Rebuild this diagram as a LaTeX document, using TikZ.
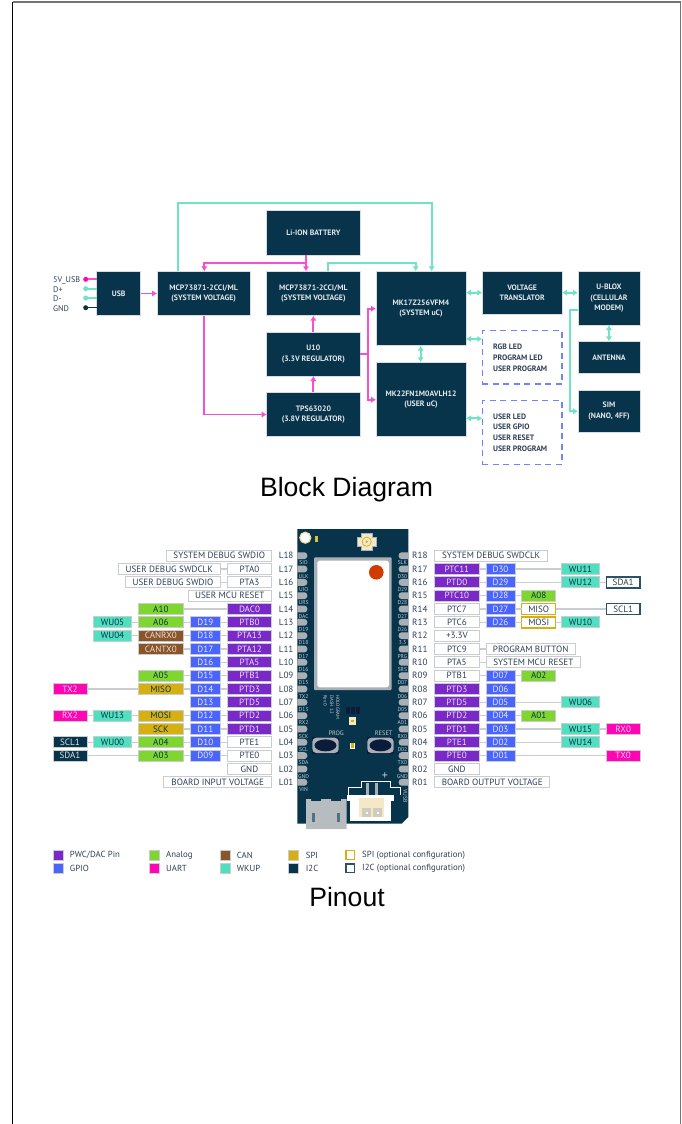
\documentclass[tikz,border=0pt]{standalone}
\usepackage{fontspec}
\setmainfont{PT Sans}
\newfontfamily\titlefont{Liberation Sans}
\usetikzlibrary{arrows.meta,calc}
\definecolor{navy}{HTML}{08344B}
\definecolor{lnpink}{HTML}{F64FCF}
\definecolor{lnteal}{HTML}{6FE3C5}
\definecolor{cpurple}{HTML}{7A28C8}
\definecolor{cblue}{HTML}{4A64FF}
\definecolor{cgreen}{HTML}{7ED62F}
\definecolor{cbrown}{HTML}{8A5528}
\definecolor{cyellow}{HTML}{D6B011}
\definecolor{cpink}{HTML}{FF05B4}
\definecolor{cteal}{HTML}{4FE0C0}
\definecolor{ink}{HTML}{2E3F55}
\definecolor{edge}{HTML}{C9CDD0}
\definecolor{padgray}{HTML}{A9B0B5}
\definecolor{corange}{HTML}{D13B00}
\definecolor{cream}{HTML}{F5E8C8}
\definecolor{btnnavy}{HTML}{0B1B3C}
\tikzset{
 x=1pt,y=-1pt,
 block/.style={fill=navy,draw=edge!70,line width=0.5pt,inner sep=0pt,outer sep=0pt,text=white!88!navy,align=center,font=\fontsize{7.8}{10.8}\selectfont\bfseries},
 dashbox/.style={draw=cblue!80,dash pattern=on 6pt off 4.5pt,line width=1.3pt,inner sep=0pt,outer sep=0pt},
 pinkline/.style={draw=lnpink,line width=1.8pt},
 tealline/.style={draw=lnteal,line width=1.8pt},
 tipf/.style={-{Latex[length=5pt,width=6.5pt]}},
 tipb/.style={{Latex[length=5pt,width=6.5pt]}-{Latex[length=5pt,width=6.5pt]}},
 dot/.style={circle,inner sep=0pt,minimum size=5pt,outer sep=0pt},
 usblabel/.style={anchor=west,inner sep=0pt,text=ink,font=\fontsize{8.2}{9}\selectfont},
 dashtext/.style={anchor=west,inner sep=0pt,text=ink,font=\fontsize{7.8}{10.8}\selectfont\bfseries,align=left},
 pinbase/.style={inner sep=0pt,outer sep=0pt,line width=1pt,draw=edge,font=\fontsize{9.1}{10}\selectfont,text height=6.4pt,text depth=0pt},
 pw/.style={fill=white,text=ink},
 pp/.style={fill=cpurple,text=white!85!cpurple},
 pb/.style={fill=cblue,text=white!85!cblue},
 pg/.style={fill=cgreen,text=navy},
 pr/.style={fill=cbrown,text=white!80!cbrown},
 py/.style={fill=cyellow,text=navy},
 pk/.style={fill=cpink,text=white!80!cpink},
 pt/.style={fill=cteal,text=navy},
 pn/.style={fill=navy,text=white!85!navy},
 pyo/.style={fill=white,draw=cyellow,line width=1.5pt,text=ink},
 pno/.style={fill=white,draw=navy!85,line width=1.5pt,text=ink},
 wire/.style={draw=edge,line width=1.2pt},
 rowlabel/.style={inner sep=0pt,anchor=west,text=ink,font=\fontsize{9.1}{10}\selectfont},
 boardtext/.style={inner sep=0pt,text=white!75!navy,font=\fontsize{5.6}{6}\selectfont},
 legendtext/.style={anchor=west,inner sep=0pt,text=ink,font=\fontsize{8.8}{10}\selectfont},
 legendbox/.style={inner sep=0pt,outer sep=0pt,minimum size=9.6pt,draw=edge,line width=0.4pt},
 titletext/.style={inner sep=0pt,font=\titlefont\fontsize{26.6}{30}\selectfont,text=black},
}
\newcommand\blk[6]{\node[block,minimum width={(#4-#3)*1pt},minimum height={(#6-#5)*1pt}] (#1) at ({(#3+#4)/2},{(#5+#6)/2}) {#2};}
\newcommand\pinbox[6]{\node[pinbase,#2,minimum width={(#4-#3)*1pt},minimum height=11pt] (#1) at ({(#3+#4)/2},{782.3-(#5-1)*13.33}) {#6};}
\newcommand\LP[4]{\pinbox{#1}{#2}{227.3}{271.7}{#3}{#4}}
\newcommand\LD[4]{\pinbox{#1}{#2}{190.3}{220.3}{#3}{#4}}
\newcommand\LA[4]{\pinbox{#1}{#2}{138}{183.7}{#3}{#4}}
\newcommand\LW[4]{\pinbox{#1}{#2}{93.7}{131.3}{#3}{#4}}
\newcommand\LO[4]{\pinbox{#1}{#2}{53}{87}{#3}{#4}}
\newcommand\RP[4]{\pinbox{#1}{#2}{434.7}{479}{#3}{#4}}
\newcommand\RD[4]{\pinbox{#1}{#2}{486}{515}{#3}{#4}}
\newcommand\RA[4]{\pinbox{#1}{#2}{521.7}{555.7}{#3}{#4}}
\newcommand\RW[4]{\pinbox{#1}{#2}{561.7}{599.3}{#3}{#4}}
\newcommand\RO[4]{\pinbox{#1}{#2}{606.3}{640}{#3}{#4}}
\newcommand\wires[1]{\foreach \aa/\bb in {#1}{\draw[wire] (\aa) -- (\bb);}}
\begin{document}
\begin{tikzpicture}
\useasboundingbox (0,0) rectangle (682,1124);
% page frame
\draw[black,line width=1pt] (12.5,1124) -- (12.5,2);
\draw[black!55,line width=1.5pt] (12.5,2) -- (680.7,2) -- (680.7,1124);
%% ---------- block diagram
\blk{usb}{USB}{96.7}{140.7}{271.3}{315.7}
\blk{mcpa}{MCP73871-2CCI/ML\\(SYSTEM VOLTAGE)}{157}{250.3}{271.3}{315.7}
\blk{batt}{Li-ION BATTERY}{266.7}{360}{210.7}{255}
\blk{mcpb}{MCP73871-2CCI/ML\\(SYSTEM VOLTAGE)}{266.7}{360}{271.3}{315.7}
\blk{uten}{U10\\(3.3V REGULATOR)}{266.7}{360}{332}{376}
\blk{tps}{TPS63020\\(3.8V REGULATOR)}{266.7}{360}{392.3}{436.7}
\blk{mks}{MK17Z256VFM4\\(SYSTEM uC)}{376}{466}{271.3}{345.7}
\blk{mku}{MK22FN1M0AVLH12\\(USER uC)}{376}{466}{362.3}{436.7}
\blk{vt}{VOLTAGE\\TRANSLATOR}{482.3}{562}{271.3}{314.3}
\blk{ublox}{U-BLOX\\(CELLULAR\\MODEM)}{578}{640}{271.3}{325}
\blk{ant}{ANTENNA}{578}{640}{341.3}{373.3}
\blk{sim}{SIM\\(NANO, 4FF)}{578}{640}{390}{432.7}
\node[dashbox,minimum width=79.7pt,minimum height=53.3pt] (dasha) at (522.15,357.35) {};
\node[dashbox,minimum width=79.7pt,minimum height=64pt] (dashb) at (522.15,432.7) {};
\node[dashtext] (dasha text) at (493,357.6) {RGB LED\\PROGRAM LED\\USER PROGRAM};
\node[dashtext] (dashb text) at (493,432.6) {USER LED\\USER GPIO\\USER RESET\\USER PROGRAM};
% USB pins
\node[dot,fill=cpink] (p5v) at (85.7,279.3) {};
\node[dot,fill=lnteal] (pdp) at (85.7,288.7) {};
\node[dot,fill=lnteal] (pdm) at (85.7,298) {};
\node[dot,fill=navy] (pgnd) at (85.7,307.7) {};
\node[usblabel] (l5v) at (53,280) {5V\_USB};
\node[usblabel] (ldp) at (53,290) {D+};
\node[usblabel] (ldm) at (53,299) {D-};
\node[usblabel] (lgnd) at (53,308.7) {GND};
\draw[pinkline] (p5v) -- (p5v -| usb.west);
\draw[tealline] (pdp) -- (pdp -| usb.west);
\draw[tealline] (pdm) -- (pdm -| usb.west);
\draw[draw=navy,line width=1.5pt] (pgnd) -- (pgnd -| usb.west);
% pink connectors
\coordinate (bs) at (306,255);
\coordinate (bj) at (306,262.7);
\coordinate (me) at (204.3,262.7);
\coordinate (ms) at (204.3,315.7);
\coordinate (mc) at (204.3,414.5);
\coordinate (uj) at (367.7,354);
\coordinate (uja) at (367.7,308.7);
\coordinate (ujb) at (367.7,399.7);
\draw[pinkline,tipf] (usb) -- (mcpa);
\draw[pinkline,tipf] (bs) -- (bs |- mcpb.north);
\draw[pinkline,tipf] (bj) -- (me) -- (me |- mcpa.north);
\draw[pinkline,tipf] (ms) -- (mc) -- (mc -| tps.west);
\draw[pinkline,tipf] (tps) -- (uten);
\draw[pinkline,tipf] (uten) -- (mcpb);
\draw[pinkline] (uj -| uten.east) -- (uj);
\draw[pinkline,tipf] (uj) -- (uja) -- (uja -| mks.west);
\draw[pinkline,tipf] (uj) -- (ujb) -- (ujb -| mku.west);
% teal connectors
\coordinate (ta) at (177.7,271.3);
\coordinate (tb) at (177.7,203);
\coordinate (tc) at (431.7,203);
\coordinate (td) at (328.3,271.3);
\coordinate (te) at (328.3,262.7);
\coordinate (tf) at (415.7,262.7);
\draw[tealline,tipf] (ta) -- (tb) -- (tc) -- (tc |- mks.north);
\draw[tealline,tipf] (td) -- (te) -- (tf) -- (tf |- mks.north);
\coordinate (row1) at (470,292.7);
\draw[tealline,tipb] (row1 -| mks.east) -- (row1 -| vt.west);
\draw[tealline,tipb] (row1 -| vt.east) -- (row1 -| ublox.west);
\coordinate (row2) at (470,339);
\draw[tealline,tipb] (row2 -| mks.east) -- (row2 -| dasha.west);
\coordinate (row3) at (470,418.3);
\draw[tealline,tipb] (row3 -| mku.east) -- (row3 -| dashb.west);
\coordinate (col1) at (420.7,350);
\draw[tealline,tipb] (col1 |- mks.south) -- (col1 |- mku.north);
\draw[tealline,tipb] (ublox) -- (ant);
\coordinate (ua) at (570,310.3);
\coordinate (ub) at (570,411.3);
\draw[tealline,tipf] (ua -| ublox.west) -- (ua) -- (ub) -- (ub -| sim.west);
\node[titletext] (title1) at (346.5,490) {Block Diagram};
%% ---------- board
\fill[navy] (297.3,529) -- (408.3,529) -- (408.3,817) -- (402,823.5) -- (297.3,823.5) -- cycle;
\begin{scope}
\clip (297.3,529) rectangle (408.3,823.5);
\foreach \n/\lab/\rab in {18/SIO/SLK,17/ULK/D30,16/UIO/D29,15/URS/D28,14/DAC/D27,13/D19/D26,12/D18/3.3,11/D17/PRG,10/D16/SRS,9/D15/D07,8/TX2/D06,7/D13/D05,6/RX2/A01,5/SCK/RX0,4/SCL/D02,3/SDA/TX0,2/GND/GND,1/VIN/{}}{
 \pgfmathsetmacro\yy{782.3-(\n-1)*13.33}
 \fill[padgray,rounded corners=3pt] (290,\yy-3.4) rectangle (307.3,\yy+3.4);
 \fill[padgray,rounded corners=3pt] (398.7,\yy-3.4) rectangle (416,\yy+3.4);
 \node[boardtext] (bl\n) at (303.6,\yy+7.2) {\lab};
 \node[boardtext] (br\n) at (402.4,\yy+7.2) {\rab};
}
\end{scope}
\node[boardtext,rotate=-90] (bvusb) at (405.4,796) {VUSB};
% hole and small part
\node[circle,fill=white,draw=cream!80!cyellow,line width=1.2pt,minimum size=11pt,inner sep=0pt] (hole) at (305.3,537.7) {};
\fill[cyellow!80] (314.6,536.4) rectangle (317.6,541.6);
% antenna connector
\fill[padgray] (361,532.5) rectangle (372.5,551);
\fill[padgray] (357,537) rectangle (376.5,546.5);
\fill[cream] (362,533.5) rectangle (371.5,550);
\fill[cream] (358,538) rectangle (375.5,545.5);
\draw[cyellow,line width=0.7pt,fill=cream] (366.7,541.7) circle (4.6);
\fill[cyellow] (366.7,541.7) circle (1.3);
% module
\fill[padgray,rounded corners=1pt] (314,557.3) rectangle (391.7,690);
\fill[white,rounded corners=2.5pt] (317.3,560.7) rectangle (389,687.3);
\fill[corange] (376.3,572.3) circle (7.3);
% silk text
\node[boardtext,rotate=-90,anchor=west,font=\fontsize{4.8}{5}\selectfont] (silka) at (337.7,695) {HOLOGRAM};
\node[boardtext,rotate=-90,anchor=west,font=\fontsize{4.8}{5}\selectfont] (silkb) at (331.7,695) {DASH 1.2};
\node[boardtext,rotate=-90,anchor=west,font=\fontsize{4.8}{5}\selectfont] (silkc) at (325.3,695) {Rev 0};
% small parts
\fill[btnnavy] (345.7,707.3) rectangle (349.7,714);
\fill[btnnavy] (350.8,707.3) rectangle (354.8,714);
\fill[btnnavy] (356,707.3) rectangle (360,714);
\fill[cream] (349,717.3) rectangle (356.4,724.7);
\fill[cyellow] (351.3,719.6) rectangle (354.1,722.4);
\fill[white] (350.4,742.5) rectangle (355,749);
\fill[cyellow] (351,743.2) rectangle (354.4,748.3);
% buttons
\foreach \bx in {312.3,367.3}{
 \fill[btnnavy] (\bx,736.7) rectangle (\bx+26.4,754);
 \fill[padgray,rounded corners=4pt] (\bx,737.7) rectangle (\bx+26.4,753);
 \fill[btnnavy] (\bx+13.2,745.35) ellipse (11 and 6);
}
\node[boardtext,font=\fontsize{6.4}{7}\selectfont] (prog) at (336.2,733.3) {PROG};
\node[boardtext,font=\fontsize{6.4}{7}\selectfont] (reset) at (383.7,733.3) {RESET};
\node[boardtext,font=\fontsize{12}{12}\selectfont] (plus) at (385,776.5) {+};
% USB connector
\fill[padgray!85!white] (306,799) -- (311,799) -- (311,801) -- (321,801) -- (321,799) -- (331,799) -- (331,801) -- (341,801) -- (341,799) -- (346.7,799) -- (346.7,829) -- (306,829) -- cycle;
\fill[navy!70] (312,813) rectangle (315,822);
\fill[navy!70] (336.7,813) rectangle (340,822);
% JST connector
\draw[white,line width=0.8pt] (348.5,795) -- (348.5,787) -- (361,787) -- (361,781) -- (390,781) -- (390,787) -- (400,787) -- (400,795);
\fill[padgray] (365.5,782.5) rectangle (368.5,796);
\fill[padgray] (374.5,782.5) rectangle (377.5,796);
\fill[white] (350,795) rectangle (391,821);
\fill[white] (346.5,795) rectangle (394,801);
\fill[cream] (359,797.7) rectangle (384.3,816.7);
\fill[padgray!50!cream] (362.3,808.3) rectangle (371,816.7);
\fill[padgray!50!cream] (373.3,808.3) rectangle (381.7,816.7);
\fill[white] (365.5,811.5) rectangle (367.5,813.5);
\fill[white] (376.5,811.5) rectangle (378.5,813.5);
%% ---------- left pins
\pinbox{Lsd}{pw}{166.7}{271.7}{18}{SYSTEM DEBUG SWDIO}
\pinbox{Lck}{pw}{118.3}{220.3}{17}{USER DEBUG SWDCLK}
\LP{L17p}{pw}{17}{PTA0}
\pinbox{Lio}{pw}{125.7}{220.3}{16}{USER DEBUG SWDIO}
\LP{L16p}{pw}{16}{PTA3}
\pinbox{Lrs}{pw}{188}{271.7}{15}{USER MCU RESET}
\LA{L14a}{pg}{14}{A10}
\LP{L14p}{pp}{14}{DAC0}
\LW{L13w}{pt}{13}{WU05}
\LA{L13a}{pg}{13}{A06}
\LD{L13d}{pb}{13}{D19}
\LP{L13p}{pp}{13}{PTB0}
\LW{L12w}{pt}{12}{WU04}
\LA{L12a}{pr}{12}{CANRX0}
\LD{L12d}{pb}{12}{D18}
\LP{L12p}{pp}{12}{PTA13}
\LA{L11a}{pr}{11}{CANTX0}
\LD{L11d}{pb}{11}{D17}
\LP{L11p}{pp}{11}{PTA12}
\LD{L10d}{pb}{10}{D16}
\LP{L10p}{pp}{10}{PTA5}
\LA{L9a}{pg}{9}{A05}
\LD{L9d}{pb}{9}{D15}
\LP{L9p}{pp}{9}{PTB1}
\LO{L8o}{pk}{8}{TX2}
\LA{L8a}{py}{8}{MISO}
\LD{L8d}{pb}{8}{D14}
\LP{L8p}{pp}{8}{PTD3}
\LD{L7d}{pb}{7}{D13}
\LP{L7p}{pp}{7}{PTD5}
\LO{L6o}{pk}{6}{RX2}
\LW{L6w}{pt}{6}{WU13}
\LA{L6a}{py}{6}{MOSI}
\LD{L6d}{pb}{6}{D12}
\LP{L6p}{pp}{6}{PTD2}
\LA{L5a}{py}{5}{SCK}
\LD{L5d}{pb}{5}{D11}
\LP{L5p}{pp}{5}{PTD1}
\LO{L4o}{pn}{4}{SCL1}
\LW{L4w}{pt}{4}{WU00}
\LA{L4a}{pg}{4}{A04}
\LD{L4d}{pb}{4}{D10}
\LP{L4p}{pw}{4}{PTE1}
\LO{L3o}{pn}{3}{SDA1}
\LA{L3a}{pg}{3}{A03}
\LD{L3d}{pb}{3}{D09}
\LP{L3p}{pw}{3}{PTE0}
\LP{L2p}{pw}{2}{GND}
\pinbox{Lbi}{pw}{163.7}{271.7}{1}{BOARD INPUT VOLTAGE}
\wires{Lck/L17p,Lio/L16p,L14a/L14p,L13w/L13a,L13a/L13d,L13d/L13p,L12w/L12a,L12a/L12d,L12d/L12p,L11a/L11d,L11d/L11p,L10d/L10p,L9a/L9d,L9d/L9p,L8o/L8a,L8a/L8d,L8d/L8p,L6o/L6w,L6w/L6a,L6a/L6d,L6d/L6p,L5a/L5d,L5d/L5p,L4o/L4w,L4w/L4a,L4a/L4d,L4d/L4p,L3o/L3a,L3a/L3d,L3d/L3p}
%% ---------- right pins
\pinbox{Rsd}{pw}{434.7}{547.7}{18}{SYSTEM DEBUG SWDCLK}
\RP{R17p}{pp}{17}{PTC11}
\RD{R17d}{pb}{17}{D30}
\RW{R17w}{pt}{17}{WU11}
\RP{R16p}{pp}{16}{PTD0}
\RD{R16d}{pb}{16}{D29}
\RW{R16w}{pt}{16}{WU12}
\RO{R16o}{pno}{16}{SDA1}
\RP{R15p}{pp}{15}{PTC10}
\RD{R15d}{pb}{15}{D28}
\RA{R15a}{pg}{15}{A08}
\RP{R14p}{pw}{14}{PTC7}
\RD{R14d}{pb}{14}{D27}
\RA{R14a}{pyo}{14}{MISO}
\RO{R14o}{pno}{14}{SCL1}
\RP{R13p}{pw}{13}{PTC6}
\RD{R13d}{pb}{13}{D26}
\RA{R13a}{pyo}{13}{MOSI}
\RW{R13w}{pt}{13}{WU10}
\RP{R12p}{pw}{12}{+3.3V}
\RP{R11p}{pw}{11}{PTC9}
\pinbox{Rpb}{pw}{486.3}{575}{11}{PROGRAM BUTTON}
\RP{R10p}{pw}{10}{PTA5}
\pinbox{Rsr}{pw}{486.3}{580.3}{10}{SYSTEM MCU RESET}
\RP{R9p}{pw}{9}{PTB1}
\RD{R9d}{pb}{9}{D07}
\RA{R9a}{pg}{9}{A02}
\RP{R8p}{pp}{8}{PTD3}
\RD{R8d}{pb}{8}{D06}
\RP{R7p}{pp}{7}{PTD5}
\RD{R7d}{pb}{7}{D05}
\RW{R7w}{pt}{7}{WU06}
\RP{R6p}{pp}{6}{PTD2}
\RD{R6d}{pb}{6}{D04}
\RA{R6a}{pg}{6}{A01}
\RP{R5p}{pp}{5}{PTD1}
\RD{R5d}{pb}{5}{D03}
\RW{R5w}{pt}{5}{WU15}
\RO{R5o}{pk}{5}{RX0}
\RP{R4p}{pp}{4}{PTE1}
\RD{R4d}{pb}{4}{D02}
\RW{R4w}{pt}{4}{WU14}
\RP{R3p}{pp}{3}{PTE0}
\RD{R3d}{pb}{3}{D01}
\RO{R3o}{pk}{3}{TX0}
\RP{R2p}{pw}{2}{GND}
\pinbox{Rbo}{pw}{434.7}{549.7}{1}{BOARD OUTPUT VOLTAGE}
\wires{R17p/R17d,R17d/R17w,R16p/R16d,R16d/R16w,R16w/R16o,R15p/R15d,R15d/R15a,R14p/R14d,R14d/R14a,R14a/R14o,R13p/R13d,R13d/R13a,R13a/R13w,R11p/Rpb,R10p/Rsr,R9p/R9d,R9d/R9a,R7p/R7d,R7d/R7w,R6p/R6d,R6d/R6a,R5p/R5d,R5d/R5w,R5w/R5o,R4p/R4d,R4d/R4w,R3p/R3d,R3d/R3o}
% row labels
\foreach \n/\m in {18/18,17/17,16/16,15/15,14/14,13/13,12/12,11/11,10/10,9/09,8/08,7/07,6/06,5/05,4/04,3/03,2/02,1/01}{
 \pgfmathsetmacro\yy{782.3-(\n-1)*13.33}
 \node[rowlabel] (rl\n) at (278.6,\yy) {L\m};
 \node[rowlabel] (rr\n) at (412,\yy) {R\m};
}
%% ---------- legend
\node[legendbox,fill=cpurple] (k1) at (58.2,855) {};
\node[legendbox,fill=cblue] (k2) at (58.2,868.3) {};
\node[legendbox,fill=cgreen] (k3) at (154.3,855) {};
\node[legendbox,fill=cpink] (k4) at (154.3,868.3) {};
\node[legendbox,fill=cbrown] (k5) at (225.3,855) {};
\node[legendbox,fill=cteal] (k6) at (225.3,868.3) {};
\node[legendbox,fill=cyellow] (k7) at (293.3,855) {};
\node[legendbox,fill=navy] (k8) at (293.3,868.3) {};
\node[legendbox,fill=white,draw=cyellow,line width=1.2pt,minimum size=8.6pt] (k9) at (350.2,855) {};
\node[legendbox,fill=white,draw=navy!85,line width=1.2pt,minimum size=8.6pt] (k10) at (350.2,868.3) {};
\node[legendtext] (t1) at (69.7,855) {PWC/DAC Pin};
\node[legendtext] (t2) at (69.7,868.3) {GPIO};
\node[legendtext] (t3) at (166,855) {Analog};
\node[legendtext] (t4) at (166,868.3) {UART};
\node[legendtext] (t5) at (236.7,855) {CAN};
\node[legendtext] (t6) at (236.7,868.3) {WKUP};
\node[legendtext] (t7) at (305.7,855) {SPI};
\node[legendtext] (t8) at (305.7,868.3) {I2C};
\node[legendtext] (t9) at (362,855) {SPI (optional configuration)};
\node[legendtext] (t10) at (362,868.3) {I2C (optional configuration)};
\node[titletext] (title2) at (347,897) {Pinout};
\end{tikzpicture}
\end{document}
